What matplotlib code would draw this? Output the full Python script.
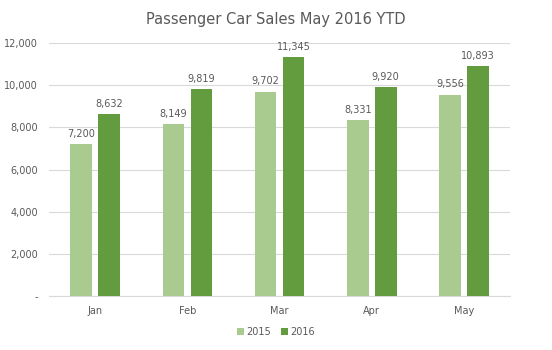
import matplotlib.pyplot as plt
import numpy as np

# Data ------------------------------------------------------------------------
months = ['Jan', 'Feb', 'Mar', 'Apr', 'May']
sales_2015 = [7200, 8149, 9702, 8331, 9556]
sales_2016 = [8632, 9819, 11345, 9920, 10893]

c2015 = '#A9CB90'
c2016 = '#629C3E'
txt = '#595959'

# Build Plot ------------------------------------------------------------------
fig = plt.figure(figsize=(5.52, 3.5), dpi=100)
ax = fig.add_axes([0.089, 0.154, 0.835, 0.723])

x_pos = np.arange(len(months))
w = 0.235
gap = 0.034
b1 = ax.bar(x_pos - w / 2 - gap, sales_2015, width=w, color=c2015, label='2015', zorder=3)
b2 = ax.bar(x_pos + w / 2 + gap, sales_2016, width=w, color=c2016, label='2016', zorder=3)

def autolabel(rects):
    for rect in rects:
        h = rect.get_height()
        ax.text(rect.get_x() + rect.get_width() / 2, h + 250, f'{h:,.0f}',
                ha='center', va='bottom', fontsize=7, color=txt)

autolabel(b1)
autolabel(b2)

ax.set_xlim(-0.5, len(months) - 0.5)
ax.set_ylim(0, 12000)
ax.set_yticks(np.arange(0, 12001, 2000))
ax.set_yticklabels(['-'] + [f'{v:,}' for v in range(2000, 12001, 2000)])
ax.set_xticks(x_pos)
ax.set_xticklabels(months)
ax.tick_params(axis='both', length=0, labelsize=7, colors=txt)
ax.tick_params(axis='y', pad=8)
ax.tick_params(axis='x', pad=7)
ax.yaxis.grid(True, color='#D9D9D9', linewidth=0.8, zorder=0)
for s in ['top', 'right', 'left']:
    ax.spines[s].set_visible(False)
ax.spines['bottom'].set_color('#D9D9D9')

fig.suptitle('Passenger Car Sales May 2016 YTD', y=0.965, fontsize=10.5, color=txt)
fig.legend(loc='center', bbox_to_anchor=(0.5, 0.052), ncol=2, frameon=False,
           fontsize=7, handlelength=0.7, handleheight=0.7, handletextpad=0.3,
           columnspacing=1.0, labelcolor=txt)

plt.savefig('out.png', dpi=100)
